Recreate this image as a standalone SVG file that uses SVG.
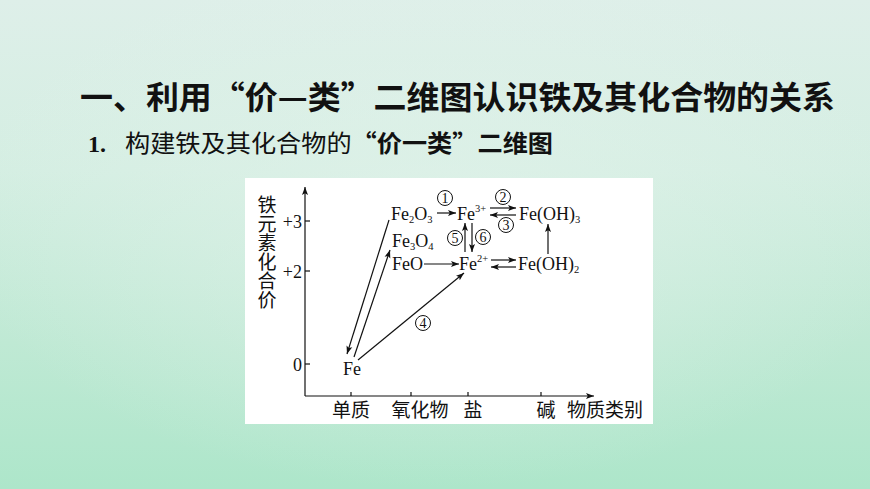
<svg xmlns="http://www.w3.org/2000/svg" width="870" height="489" viewBox="0 0 870 489">
  <defs>
    <linearGradient id="bg" x1="0" y1="0" x2="0" y2="1">
      <stop offset="0" stop-color="#deefe9"/>
      <stop offset="0.35" stop-color="#d4eee2"/>
      <stop offset="0.7" stop-color="#bfe9d4"/>
      <stop offset="1" stop-color="#ade6ca"/>
    </linearGradient>
    <radialGradient id="glow" cx="0.5" cy="0.45" r="0.55">
      <stop offset="0" stop-color="#e4f3ec" stop-opacity="0.6"/>
      <stop offset="1" stop-color="#e4f3ec" stop-opacity="0"/>
    </radialGradient>
    <marker id="ah" markerUnits="userSpaceOnUse" markerWidth="9" markerHeight="7" refX="8" refY="3.5" orient="auto">
      <path d="M0,0.5 L8,3.5 L0,6.5 L1.8,3.5 Z" fill="#111"/>
    </marker>
  </defs>
  <style>
    .ln { stroke:#111; stroke-width:1.2; fill:none; }
    .ar { stroke:#111; stroke-width:1.2; fill:none; marker-end:url(#ah); }
    .chem { font-family:"Liberation Serif", "Times New Roman", serif; font-size:18px; fill:#111; }
    .sub { font-size:10.5px; }
    .cjk { font-family:"Noto Sans CJK SC", "Noto Sans", sans-serif; font-size:19px; fill:#111; }
    .ring { fill:none; stroke:#111; stroke-width:1; }
    .dig { font-family:"Liberation Serif", "Times New Roman", serif; font-size:14px; fill:#111; text-anchor:middle; }
    .tick { font-family:"Liberation Serif", "Times New Roman", serif; font-size:18px; fill:#111; text-anchor:end; }
  </style>

  <rect width="870" height="489" fill="url(#bg)"/>
  <rect width="870" height="489" fill="url(#glow)"/>

  <g id="title">
    <text x="80" y="109" font-family="'Noto Sans CJK SC', sans-serif" font-weight="700" font-size="32" fill="#111" textLength="755" lengthAdjust="spacingAndGlyphs">一、利用“价—类”二维图认识铁及其化合物的关系</text>
  </g>
  <g id="subtitle">
    <text x="88" y="152" font-family="'Liberation Serif', serif" font-weight="700" font-size="24" fill="#111">1.</text>
    <text x="125" y="152" font-family="'Noto Sans CJK SC', sans-serif" font-size="24" fill="#111" textLength="428" lengthAdjust="spacingAndGlyphs">构建铁及其化合物的<tspan font-weight="700">“价一类”二维图</tspan></text>
  </g>

  <g id="panel">
    <rect x="245" y="178" width="408" height="246" fill="#ffffff"/>
  </g>

  <g id="axes">
    <line class="ar" x1="305" y1="396" x2="305" y2="187"/>
    <line class="ar" x1="305" y1="396" x2="594" y2="396"/>
    <line class="ln" x1="305" y1="221" x2="310" y2="221"/>
    <line class="ln" x1="305" y1="271" x2="310" y2="271"/>
    <line class="ln" x1="305" y1="364" x2="310" y2="364"/>
    <line class="ln" x1="351" y1="396" x2="351" y2="392"/>
    <line class="ln" x1="411" y1="396" x2="411" y2="392"/>
    <line class="ln" x1="468" y1="396" x2="468" y2="392"/>
    <line class="ln" x1="541" y1="396" x2="541" y2="392"/>
    <text class="tick" x="302" y="228">+3</text>
    <text class="tick" x="302" y="278">+2</text>
    <text class="tick" x="302" y="371">0</text>
    <text class="cjk" x="267" y="195" writing-mode="vertical-rl">铁元素化合价</text>
    <text class="cjk" x="351" y="417" text-anchor="middle">单质</text>
    <text class="cjk" x="420" y="417" text-anchor="middle">氧化物</text>
    <text class="cjk" x="473" y="417" text-anchor="middle">盐</text>
    <text class="cjk" x="546" y="417" text-anchor="middle">碱</text>
    <text class="cjk" x="567" y="417">物质类别</text>
  </g>

  <g id="node-Fe2O3"><text class="chem" x="391" y="220">Fe<tspan class="sub" dy="3">2</tspan><tspan dy="-3">O</tspan><tspan class="sub" dy="3">3</tspan></text></g>
  <g id="node-Fe3plus"><text class="chem" x="457" y="220">Fe<tspan class="sub" font-size="9" dy="-8">3+</tspan></text></g>
  <g id="node-FeOH3"><text class="chem" x="519" y="220">Fe(OH)<tspan class="sub" dy="3">3</tspan></text></g>
  <g id="node-Fe3O4"><text class="chem" x="392" y="247">Fe<tspan class="sub" dy="3">3</tspan><tspan dy="-3">O</tspan><tspan class="sub" dy="3">4</tspan></text></g>
  <g id="node-FeO"><text class="chem" x="392" y="270">FeO</text></g>
  <g id="node-Fe2plus"><text class="chem" x="459" y="270">Fe<tspan class="sub" font-size="9" dy="-8">2+</tspan></text></g>
  <g id="node-FeOH2"><text class="chem" x="518" y="270">Fe(OH)<tspan class="sub" dy="3">2</tspan></text></g>
  <g id="node-Fe"><text class="chem" x="343" y="375">Fe</text></g>

  <g id="connectors">
    <line class="ar" x1="437" y1="213" x2="456" y2="213"/>
    <line class="ar" x1="490" y1="208" x2="516" y2="208"/>
    <line class="ar" x1="516" y1="215" x2="490" y2="215"/>
    <line class="ar" x1="465" y1="252" x2="465" y2="223"/>
    <line class="ar" x1="472" y1="223" x2="472" y2="252"/>
    <line class="ar" x1="424" y1="264" x2="459" y2="264"/>
    <line class="ar" x1="491" y1="260" x2="516" y2="260"/>
    <line class="ar" x1="516" y1="267" x2="491" y2="267"/>
    <line class="ar" x1="548" y1="254" x2="548" y2="224"/>
    <line class="ar" x1="389" y1="220" x2="347" y2="354"/>
    <line class="ar" x1="354" y1="357" x2="390" y2="250"/>
    <line class="ar" x1="358" y1="360" x2="464" y2="273"/>
  </g>

  <g id="labels">
    <g id="label-1"><circle class="ring" cx="445" cy="198" r="7.5"/><text class="dig" x="445" y="203">1</text></g>
    <g id="label-2"><circle class="ring" cx="503" cy="197" r="7.5"/><text class="dig" x="503" y="202">2</text></g>
    <g id="label-3"><circle class="ring" cx="506" cy="225" r="7.5"/><text class="dig" x="506" y="230">3</text></g>
    <g id="label-5"><circle class="ring" cx="455" cy="238" r="7.5"/><text class="dig" x="455" y="243">5</text></g>
    <g id="label-6"><circle class="ring" cx="483" cy="237" r="7.5"/><text class="dig" x="483" y="242">6</text></g>
    <g id="label-4"><circle class="ring" cx="423" cy="323" r="7.5"/><text class="dig" x="423" y="328">4</text></g>
  </g>
</svg>
